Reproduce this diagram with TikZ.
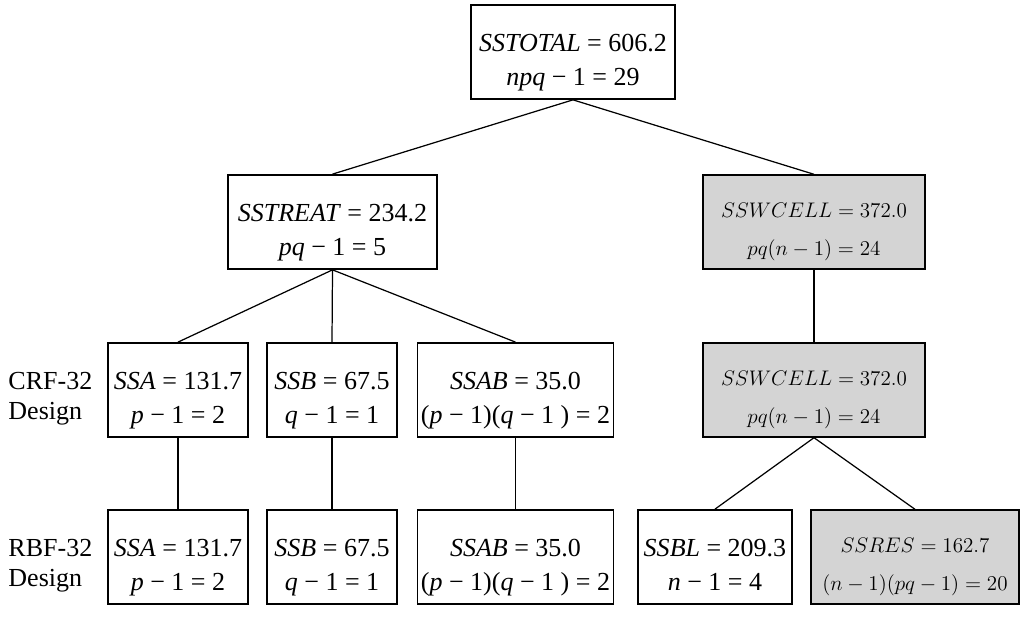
\documentclass[tikz,border=0pt]{standalone}
\usepackage{fontspec}
\setmainfont{Liberation Serif}
\usetikzlibrary{positioning}
\tikzstyle{box}=[rectangle, draw=black, line width=1pt, inner sep=2pt, align=center, minimum height=1.88cm, font=\fontsize{14.8}{19}\selectfont,
  execute at begin node={\rule{0pt}{42pt}}, execute at end node={\rule[-4pt]{0pt}{4pt}}]
\tikzstyle{shaded}=[box, fill=black!17, line width=0.8pt, font=\fontsize{12.5}{21.5}\selectfont,
  execute at begin node={\rule{0pt}{41.5pt}}]
\tikzstyle{link}=[line width=0.7pt]
\tikzstyle{annot}=[align=left, inner sep=2pt, minimum height=1.88cm, font=\fontsize{14.8}{17}\selectfont,
  execute at begin node={\rule{0pt}{38pt}}, execute at end node={\rule[-4pt]{0pt}{4pt}}]

\begin{document}
\begin{tikzpicture}[x=0.02cm, y=-0.02cm]
	\useasboundingbox (0,0) rectangle (1021,617);

	\node[box, minimum width=4.08cm](total) at (573,52){\textit{SSTOTAL} = 606.2\\\textit{npq} − 1 = 29};
	\node[box, minimum width=4.18cm](treat) at (332.5,222){\textit{SSTREAT} = 234.2\\\textit{pq} − 1 = 5};
	\node[shaded, minimum width=4.44cm](wcell) at (814,222){$SSWCELL = 372.0$\\$pq(n-1) = 24$};

	% CRF-32 row
	\node[box, minimum width=2.8cm](ssaC) at (178,390){\textit{SSA} = 131.7\\\textit{p} − 1 = 2};
	\node[box, minimum width=2.6cm](ssbC) at (332,390){\textit{SSB} = 67.5\\\textit{q} − 1 = 1};
	\node[box, minimum width=3.9cm](ssabC) at (515.5,390){\textit{SSAB} = 35.0\\(\textit{p} − 1)(\textit{q} − 1 ) = 2};
	\node[shaded, minimum width=4.44cm](wcellR) at (814,390){$SSWCELL = 372.0$\\$pq(n-1) = 24$};

	% RBF-32 row
	\node[box, minimum width=2.8cm](ssaR) at (178,557){\textit{SSA} = 131.7\\\textit{p} − 1 = 2};
	\node[box, minimum width=2.6cm](ssbR) at (332,557){\textit{SSB} = 67.5\\\textit{q} − 1 = 1};
	\node[box, minimum width=3.9cm](ssabR) at (515.5,557){\textit{SSAB} = 35.0\\(\textit{p} − 1)(\textit{q} − 1 ) = 2};
	\node[box, minimum width=3.08cm](ssbl) at (715,557){\textit{SSBL} = 209.3\\\textit{n} − 1 = 4};
	\node[shaded, minimum width=4.16cm](ssres) at (915,557){$SSRES = 162.7$\\$(n-1)(pq-1) = 20$};

	\node[annot, left=0.22cm of ssaC](crf){CRF-32\\Design};
	\node[annot, left=0.22cm of ssaR](rbf){RBF-32\\Design};

	\draw[link] (total.south) -- (treat.north);
	\draw[link] (total.south) -- (wcell.north);
	\draw[link] (treat.south) -- (ssaC.north);
	\draw[link] (treat.south) -- (ssbC.north);
	\draw[link] (treat.south) -- (ssabC.north);
	\draw[link] (wcell.south) -- (wcellR.north);
	\draw[link] (ssaC.south) -- (ssaR.north);
	\draw[link] (ssbC.south) -- (ssbR.north);
	\draw[link] (ssabC.south) -- (ssabR.north);
	\draw[link] (wcellR.south) -- (ssbl.north);
	\draw[link] (wcellR.south) -- (ssres.north);
\end{tikzpicture}
\end{document}
